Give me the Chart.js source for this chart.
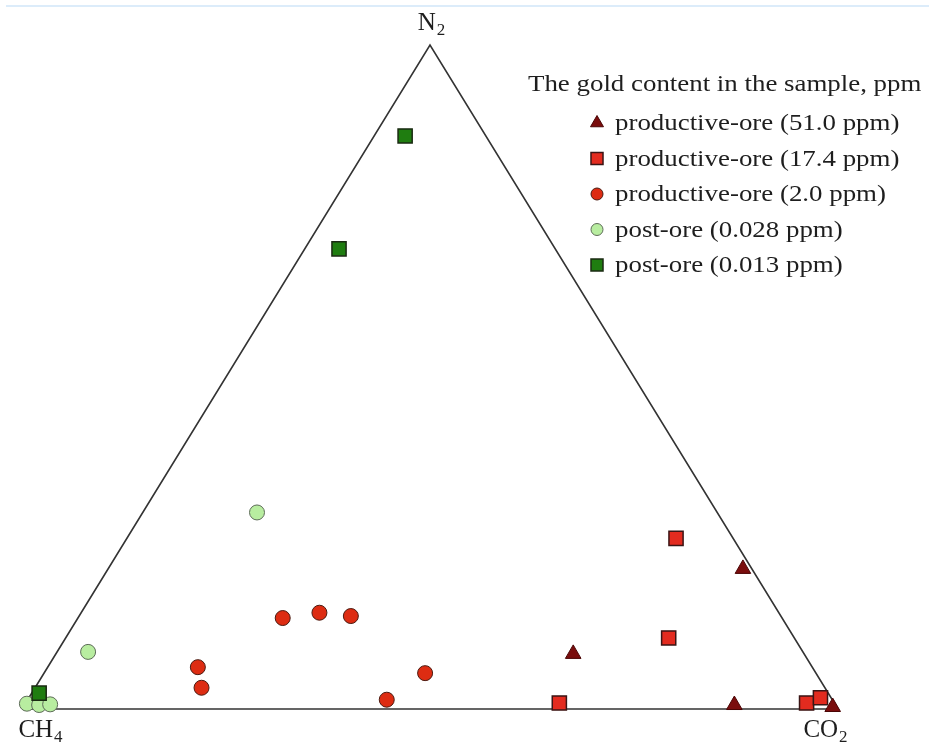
<!DOCTYPE html>
<html>
<head>
<meta charset="utf-8">
<script src="https://cdn.jsdelivr.net/npm/chart.js@4.4.1/dist/chart.umd.min.js"></script>
<style>
  html, body { margin: 0; padding: 0; background: #fff; }
  #wrap { position: relative; width: 929px; height: 742px; overflow: hidden; background: #fff; }
  #rule { position: absolute; left: 6px; right: 0; top: 5px; height: 2px; background: #dcecfa; }
  canvas { position: absolute; left: 0; top: 0; }
</style>
</head>
<body>
<div id="wrap">
  <div id="rule"></div>
  <canvas id="chart" width="929" height="742"></canvas>
</div>
<script>
// Gas composition of fluid inclusions, percent: [CH4, CO2, N2]
const ore51 = [
  [1.1, 77.8, 21.1],
  [28.3, 63.4, 8.3],
  [12.4, 87.0, 0.6],
  [0.5, 99.2, 0.3]
];
const ore17 = [
  [7.0, 67.3, 25.7],
  [15.4, 73.9, 10.7],
  [33.7, 65.4, 0.9],
  [3.4, 95.7, 0.9],
  [1.3, 97.0, 1.7]
];
const ore2 = [
  [61.2, 25.1, 13.7],
  [56.3, 29.2, 14.5],
  [52.7, 33.3, 14.0],
  [75.3, 18.4, 6.3],
  [76.4, 20.4, 3.2],
  [54.6, 44.0, 1.4],
  [47.9, 46.7, 5.4]
];
const post028 = [
  [56.4, 14.0, 29.6],
  [87.6, 3.8, 8.6],
  [99.0, 0.2, 0.8],
  [97.6, 1.8, 0.6],
  [96.2, 3.1, 0.7]
];
const post013 = [
  [9.9, 3.8, 86.3],
  [26.5, 4.2, 69.3],
  [96.7, 0.9, 2.4]
];
// Triangle corners: pure CH4, pure CO2, pure N2
const corners = [
  [100, 0, 0],
  [0, 100, 0],
  [0, 0, 100],
  [100, 0, 0]
];
const seriesLabels = [
  'productive-ore (51.0 ppm)',
  'productive-ore (17.4 ppm)',
  'productive-ore (2.0 ppm)',
  'post-ore (0.028 ppm)',
  'post-ore (0.013 ppm)'
];
const legendTitle = 'The gold content in the sample, ppm';

// Ternary composition -> planar coordinates (CH4 left, CO2 right, N2 apex)
function toXY(t) {
  return { x: t[1] + t[2] / 2, y: t[2] };
}

const serif = '"Liberation Serif", "Times New Roman", serif';
const textColor = '#1e1e1e';

function stretchText(ctx, text, x, y, sx) {
  ctx.save();
  ctx.translate(x, y);
  ctx.scale(sx, 1);
  ctx.fillText(text, 0, 0);
  ctx.restore();
}

// Corner labels with subscripts
const cornerLabels = {
  id: 'cornerLabels',
  afterDraw(chart) {
    const ctx = chart.ctx;
    const xs = chart.scales.x, ys = chart.scales.y;
    ctx.save();
    ctx.fillStyle = textColor;
    ctx.textBaseline = 'alphabetic';
    ctx.textAlign = 'left';
    function label(main, sub, cx, base) {
      ctx.font = '25px ' + serif;
      const w1 = ctx.measureText(main).width;
      ctx.font = '17px ' + serif;
      const w2 = ctx.measureText(sub).width;
      const x0 = cx - (w1 + w2) / 2;
      ctx.font = '25px ' + serif;
      ctx.fillText(main, x0, base);
      ctx.font = '17px ' + serif;
      ctx.fillText(sub, x0 + w1 + 1, base + 5);
    }
    label('N', '2', xs.getPixelForValue(50) + 1, ys.getPixelForValue(100) - 15);
    label('CH', '4', xs.getPixelForValue(0) + 18, ys.getPixelForValue(0) + 28);
    label('CO', '2', xs.getPixelForValue(100) - 13, ys.getPixelForValue(0) + 28);
    ctx.restore();
  }
};

// Legend block in the upper right
const gasLegend = {
  id: 'gasLegend',
  afterDraw(chart) {
    const ctx = chart.ctx;
    const sx = 1.12;
    ctx.save();
    ctx.fillStyle = textColor;
    ctx.textBaseline = 'alphabetic';
    ctx.textAlign = 'left';
    ctx.font = '24px ' + serif;
    stretchText(ctx, legendTitle, 528, 91, sx);
    const rows = [130, 165.5, 201, 236.5, 272];
    chart.data.datasets.forEach((ds) => {
      if (ds.legendIndex === undefined) return;
      const i = ds.legendIndex;
      const base = rows[i];
      ctx.fillStyle = ds.backgroundColor;
      ctx.strokeStyle = ds.borderColor;
      ctx.lineWidth = ds.borderWidth;
      Chart.helpers.drawPoint(ctx, {
        pointStyle: ds.pointStyle,
        radius: ds.legendRadius,
        rotation: 0,
        borderWidth: ds.borderWidth
      }, 597, base - 7);
      ctx.fillStyle = textColor;
      ctx.font = '24px ' + serif;
      stretchText(ctx, seriesLabels[i], 615, base, sx);
    });
    ctx.restore();
  }
};

const data = {
  datasets: [
    {
      label: 'frame',
      data: corners.map(toXY),
      showLine: true,
      borderColor: '#333333',
      borderWidth: 1.6,
      pointRadius: 0,
      fill: false,
      order: 10,
      clip: false
    },
    {
      label: seriesLabels[0], legendIndex: 0, legendRadius: 7.5,
      data: ore51.map(toXY),
      pointStyle: 'triangle', pointRadius: 9,
      backgroundColor: '#7a0d0d', borderColor: '#4a0505', borderWidth: 1,
      order: 2, clip: false
    },
    {
      label: seriesLabels[1], legendIndex: 1, legendRadius: 8.5,
      data: ore17.map(toXY),
      pointStyle: 'rect', pointRadius: 10,
      backgroundColor: '#e32b1f', borderColor: '#3a1515', borderWidth: 1.5,
      order: 3, clip: false
    },
    {
      label: seriesLabels[2], legendIndex: 2, legendRadius: 6,
      data: ore2.map(toXY),
      pointStyle: 'circle', pointRadius: 7.5,
      backgroundColor: '#dd2c12', borderColor: '#4a1a10', borderWidth: 1,
      order: 4, clip: false
    },
    {
      label: seriesLabels[3], legendIndex: 3, legendRadius: 6,
      data: post028.map(toXY),
      pointStyle: 'circle', pointRadius: 7.5,
      backgroundColor: '#b8eda0', borderColor: '#5d6b58', borderWidth: 1,
      order: 5, clip: false
    },
    {
      label: seriesLabels[4], legendIndex: 4, legendRadius: 8.5,
      data: post013.map(toXY),
      pointStyle: 'rect', pointRadius: 10,
      backgroundColor: '#1f7d10', borderColor: '#1a2a12', borderWidth: 1.5,
      order: 1, clip: false
    }
  ]
};

new Chart(document.getElementById('chart'), {
  type: 'scatter',
  data: data,
  options: {
    responsive: false,
    animation: false,
    events: [],
    layout: { padding: { left: 22, right: 91, top: 45, bottom: 33 } },
    scales: {
      x: { type: 'linear', min: 0, max: 100, display: false },
      y: { type: 'linear', min: 0, max: 100, display: false }
    },
    plugins: {
      legend: { display: false },
      tooltip: { enabled: false }
    }
  },
  plugins: [cornerLabels, gasLegend]
});
</script>
</body>
</html>
